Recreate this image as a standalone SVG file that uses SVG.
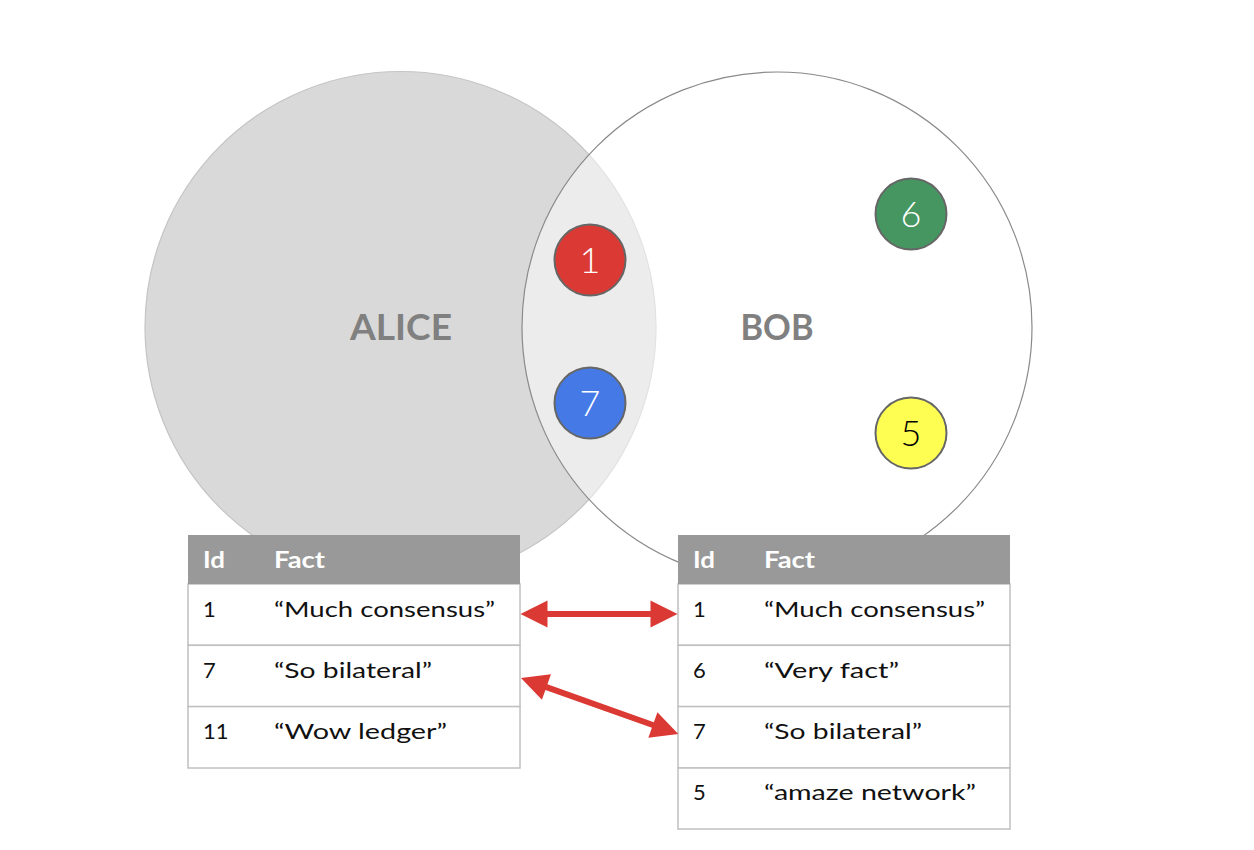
<svg xmlns="http://www.w3.org/2000/svg" width="1254" height="850" viewBox="0 0 1254 850">
<style>
.lbl{font-family:"Lato","Noto Sans","DejaVu Sans",sans-serif;font-weight:bold;font-size:36px;fill:#808080;text-anchor:middle}
.num{font-family:"Lato","Noto Sans","DejaVu Sans",sans-serif;font-weight:300;font-size:36px;fill:#ffffff;text-anchor:middle}
.dot{stroke:#666666;stroke-width:2}
.hdr{fill:#999999}
.cell{fill:#ffffff;stroke:#c0c0c0;stroke-width:1.5}
.ht{font-family:"Lato","Noto Sans","DejaVu Sans",sans-serif;font-weight:bold;font-size:23px;fill:#ffffff}
.tt{font-family:"Lato","Noto Sans","DejaVu Sans",sans-serif;font-size:22px;fill:#111111}
.arrow{fill:#db3a34}
</style>
<rect width="1254" height="850" fill="#ffffff"/>
<g id="alice">
<circle cx="400.5" cy="327" r="255.5" fill="#d9d9d9" stroke="#c4c4c4" stroke-width="1.2"/>
<text class="lbl" x="401" y="340" textLength="102" lengthAdjust="spacingAndGlyphs">ALICE</text>
</g>
<g id="bob">
<circle cx="777" cy="327" r="255" fill="#ffffff" fill-opacity="0.5" stroke="#8a8a8a" stroke-width="1.2"/>
<text class="lbl" x="777" y="340" textLength="73" lengthAdjust="spacingAndGlyphs">BOB</text>
</g>
<g id="fact1">
<circle class="dot" cx="590" cy="260" r="35.5" fill="#db3a34"/>
<text class="num" x="590" y="273">1</text>
</g>
<g id="fact7">
<circle class="dot" cx="590" cy="403" r="35.5" fill="#4479e6"/>
<text class="num" x="590" y="416">7</text>
</g>
<g id="fact6">
<circle class="dot" cx="911" cy="214" r="35.5" fill="#459660"/>
<text class="num" x="911" y="227">6</text>
</g>
<g id="fact5">
<circle class="dot" cx="911" cy="433" r="35.5" fill="#fdfd52"/>
<text class="num" x="911" y="446" style="fill:#000000">5</text>
</g>
<g id="alice-table">
<rect class="cell" x="188" y="584" width="332" height="61.3"/>
<rect class="cell" x="188" y="645.3" width="332" height="61.3"/>
<rect class="cell" x="188" y="706.6" width="332" height="61.4"/>
<rect class="hdr" x="188" y="535" width="332" height="49"/>
<text class="ht" x="203" y="568" textLength="22" lengthAdjust="spacingAndGlyphs">Id</text>
<text class="ht" x="274" y="568" textLength="51" lengthAdjust="spacingAndGlyphs">Fact</text>
<text class="tt" x="203" y="617">1</text>
<text class="tt" x="274" y="617" textLength="221" lengthAdjust="spacingAndGlyphs">“Much consensus”</text>
<text class="tt" x="203" y="678">7</text>
<text class="tt" x="274" y="678" textLength="158" lengthAdjust="spacingAndGlyphs">“So bilateral”</text>
<text class="tt" x="203" y="739">11</text>
<text class="tt" x="274" y="739" textLength="173" lengthAdjust="spacingAndGlyphs">“Wow ledger”</text>
</g>
<g id="bob-table">
<rect class="cell" x="678" y="584" width="332" height="61.3"/>
<rect class="cell" x="678" y="645.3" width="332" height="61.3"/>
<rect class="cell" x="678" y="706.6" width="332" height="61.4"/>
<rect class="cell" x="678" y="768" width="332" height="61"/>
<rect class="hdr" x="678" y="535" width="332" height="49"/>
<text class="ht" x="693" y="568" textLength="22" lengthAdjust="spacingAndGlyphs">Id</text>
<text class="ht" x="764" y="568" textLength="51" lengthAdjust="spacingAndGlyphs">Fact</text>
<text class="tt" x="693" y="617">1</text>
<text class="tt" x="764" y="617" textLength="221" lengthAdjust="spacingAndGlyphs">“Much consensus”</text>
<text class="tt" x="693" y="678">6</text>
<text class="tt" x="764" y="678" textLength="135" lengthAdjust="spacingAndGlyphs">“Very fact”</text>
<text class="tt" x="693" y="739">7</text>
<text class="tt" x="764" y="739" textLength="158" lengthAdjust="spacingAndGlyphs">“So bilateral”</text>
<text class="tt" x="693" y="800">5</text>
<text class="tt" x="764" y="800" textLength="212" lengthAdjust="spacingAndGlyphs">“amaze network”</text>
</g>
<g id="connectors">
<path class="arrow" transform="translate(520.5,614)" d="M0,0 L27,-13.5 L27,-3 L130,-3 L130,-13.5 L157,0 L130,13.5 L130,3 L27,3 L27,13.5 Z"/>
<path class="arrow" transform="translate(521,678) rotate(19.6)" d="M0,0 L27,-13.5 L27,-3 L140,-3 L140,-13.5 L167,0 L140,13.5 L140,3 L27,3 L27,13.5 Z"/>
</g>
</svg>
